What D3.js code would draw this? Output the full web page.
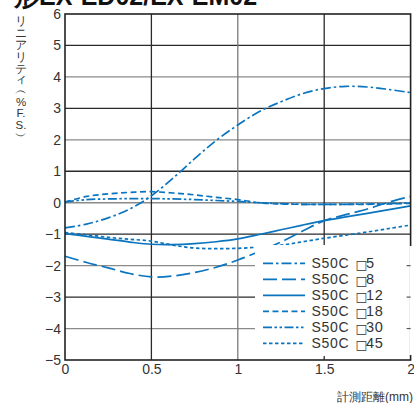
<!DOCTYPE html>
<html><head><meta charset="utf-8">
<script src="https://cdn.jsdelivr.net/npm/d3@7"></script>
<style>
html,body{margin:0;padding:0;background:#fff;}
svg{display:block;}
text{font-family:"Liberation Sans","Helvetica",Arial,sans-serif;}
</style></head>
<body>
<svg id="c" width="414" height="403"></svg>
<script>
// ---- data ----
const distance = [0,0.125,0.25,0.375,0.5,0.625,0.75,0.875,1,1.125,1.25,1.375,1.5,1.625,1.75,1.875,2];
const s5  = [-0.8,-0.68,-0.48,-0.2,0.22,0.78,1.4,1.98,2.47,2.9,3.21,3.47,3.63,3.7,3.68,3.6,3.5];
const s8  = [-1.7,-1.9,-2.07,-2.25,-2.36,-2.33,-2.22,-2.05,-1.82,-1.55,-1.25,-0.9,-0.57,-0.38,-0.2,0.02,0.2];
const s12 = [-0.98,-1.07,-1.16,-1.25,-1.32,-1.33,-1.3,-1.24,-1.15,-1.01,-0.86,-0.71,-0.57,-0.45,-0.34,-0.22,-0.1];
const s18 = [0.02,0.2,0.28,0.33,0.35,0.31,0.25,0.17,0.1,0.0,-0.04,-0.05,-0.05,-0.05,-0.05,-0.04,-0.02];
const s30 = [0.02,0.1,0.12,0.13,0.13,0.12,0.1,0.07,0.04,0.0,-0.03,-0.05,-0.05,-0.05,-0.04,-0.03,0.0];
const s45 = [-0.95,-1.02,-1.1,-1.16,-1.22,-1.35,-1.44,-1.46,-1.45,-1.41,-1.35,-1.24,-1.13,-1.03,-0.93,-0.82,-0.71];
const material = "S50C";
const sizes = ["5","8","12","18","30","45"];
const seriesValues = [s5,s8,s12,s18,s30,s45];
const xTicks = [0,0.5,1,1.5,2];
const yTicks = [-5,-4,-3,-2,-1,0,1,2,3,4,5,6];
const title = "形EX-ED02/EX-EM02";
const xTitle = "計測距離(mm)";
const yTitleChars = ["リ","ニ","ア","リ","テ","ィ","\uFE35","%","F.","S.","\uFE36"];

// ---- styles ----
const dashes = ["10,3,2.5,3","14,5",null,"6,3.5","9,2.5,2.5,2.5,2.5,2.5","3.5,2.5"];
const blue = "#0b74be";

const svg = d3.select("#c");
const L = 65, R = 410.6, T = 14, B = 360;
const x = d3.scaleLinear().domain([0,2]).range([L,R]);
const y = d3.scaleLinear().domain([-5,6]).range([B,T]);

// title (cropped at top)
svg.append("text").attr("x",14).attr("y",4.5).attr("font-size",25).attr("font-weight","bold")
  .attr("fill","#111").text(title);

// grid
const g = svg.append("g");
g.selectAll("line.h").data(yTicks.filter(d=>d>-5&&d<6)).enter().append("line")
  .attr("x1",L).attr("x2",R).attr("y1",d=>y(d)).attr("y2",d=>y(d))
  .attr("stroke",d=>Math.abs(d)%2===1?"#2a2a2a":"#8a8a8a").attr("stroke-width",1.3);
g.selectAll("line.v").data(xTicks.filter(d=>d>0&&d<2)).enter().append("line")
  .attr("y1",T).attr("y2",B).attr("x1",d=>x(d)).attr("x2",d=>x(d))
  .attr("stroke",d=>d===1?"#7a7a7a":"#2a2a2a").attr("stroke-width",1.3);

// curves
const line = d3.line().x((d,i)=>x(distance[i])).y(d=>y(d)).curve(d3.curveCatmullRom);
seriesValues.forEach((vals,k)=>{
  svg.append("path").attr("d",line(vals)).attr("fill","none").attr("stroke",blue)
    .attr("stroke-width",1.7).attr("stroke-dasharray",dashes[k]);
});

// legend box
const lg = svg.append("g");
lg.append("rect").attr("x",255).attr("y",245).attr("width",R-255+1).attr("height",111).attr("fill","#fff");
// border
svg.append("rect").attr("x",L).attr("y",T).attr("width",R-L).attr("height",B-T)
  .attr("fill","none").attr("stroke","#222").attr("stroke-width",1.6);
// cover right border in legend area, keep ticks
svg.append("rect").attr("x",R-1.2).attr("y",246).attr("width",3).attr("height",109).attr("fill","#fff");
svg.selectAll("line.rt").data([-2,-3,-4]).enter().append("line")
  .attr("x1",R-4).attr("x2",R).attr("y1",d=>y(d)).attr("y2",d=>y(d)).attr("stroke","#555").attr("stroke-width",1.2);

sizes.forEach((sz,k)=>{
  const yy = 263.3 + k*16;
  lg.append("line").attr("x1",263).attr("x2",305).attr("y1",yy).attr("y2",yy)
    .attr("stroke",blue).attr("stroke-width",1.7).attr("stroke-dasharray",dashes[k]);
  const t = lg.append("text").attr("y",yy+5).attr("font-size",14).attr("fill","#333");
  t.append("tspan").attr("x",311.5).attr("letter-spacing",0.7).text(material);
  t.append("tspan").attr("x",355.5).attr("font-family","DejaVu Sans").attr("font-size",12.5).attr("dy",0.5).text("\u25A1");
  t.append("tspan").attr("x",366).attr("dy",-0.5).attr("letter-spacing",0.6).attr("font-size",14.5).text(sz);
});

// axes
const yAxis = d3.axisLeft(y).tickValues(yTicks).tickSize(0).tickPadding(4);
const ya = svg.append("g").attr("transform",`translate(${L},0)`).call(yAxis);
ya.select(".domain").remove();
ya.selectAll("text").attr("font-size",14).attr("fill","#333").attr("font-family",null);
const xAxis = d3.axisBottom(x).tickValues(xTicks).tickSize(0).tickPadding(4).tickFormat(d3.format("~g"));
const xa = svg.append("g").attr("transform",`translate(0,${B})`).call(xAxis);
xa.select(".domain").remove();
xa.selectAll("text").attr("font-size",14).attr("fill","#333").attr("font-family",null);

// axis titles
svg.append("text").attr("x",413).attr("y",401).attr("text-anchor","end").attr("font-size",12)
  .attr("fill","#333").text(xTitle);
const ys = [21,33,45,57,68.5,79,90,101.5,113,125,136];
const yt = svg.append("text").attr("font-size",11.5).attr("fill","#333").attr("text-anchor","middle");
yTitleChars.forEach((c,i)=>{
  yt.append("tspan").attr("x",21).attr("y",ys[i]+4).text(c);
});
</script>
</body></html>
